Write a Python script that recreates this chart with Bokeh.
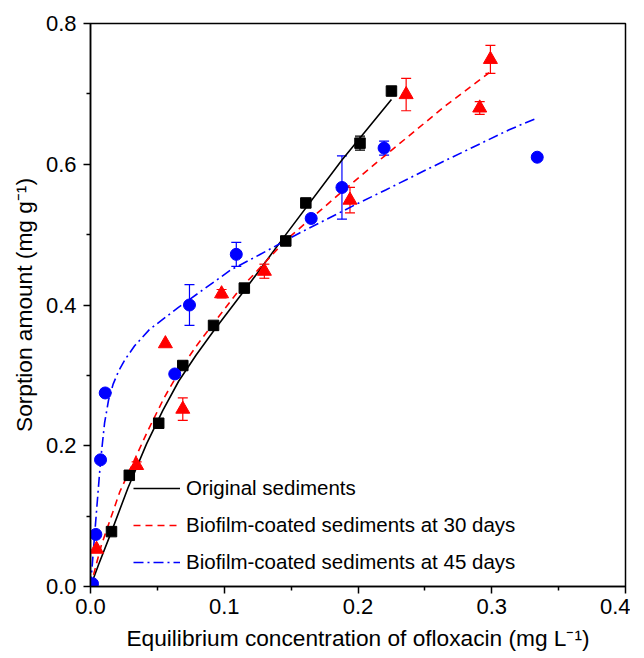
from bokeh.plotting import figure
from bokeh.models import (Range1d, FixedTicker, Whisker, TeeHead, ColumnDataSource,
                          Legend, LegendItem)
from bokeh.embed import file_html
from bokeh.resources import INLINE

# ---------------- data ----------------
# Original sediments (squares)
orig_x = [0.0157, 0.029, 0.051, 0.069, 0.092, 0.115, 0.146, 0.161, 0.2015, 0.225]
orig_y = [0.078, 0.158, 0.232, 0.314, 0.371, 0.424, 0.491, 0.545, 0.630, 0.704]
orig_err = [0.0, 0.0, 0.0, 0.0, 0.0, 0.0, 0.004, 0.0, 0.010, 0.0]

# Biofilm-coated sediments at 30 days (triangles)
d30_x = [0.0045, 0.0345, 0.056, 0.069, 0.098, 0.130, 0.194, 0.236, 0.291, 0.299]
d30_y = [0.053, 0.172, 0.345, 0.252, 0.416, 0.448, 0.549, 0.699, 0.680, 0.749]
d30_err = [0.0, 0.005, 0.0, 0.016, 0.006, 0.010, 0.018, 0.023, 0.009, 0.020]

# Biofilm-coated sediments at 45 days (circles)
d45_x = [0.0015, 0.004, 0.0075, 0.011, 0.063, 0.074, 0.109, 0.165, 0.188, 0.2195, 0.334]
d45_y = [0.004, 0.074, 0.180, 0.275, 0.302, 0.400, 0.472, 0.523, 0.567, 0.623, 0.610]
d45_err = [0.0, 0.0, 0.0, 0.005, 0.0, 0.029, 0.017, 0.0, 0.045, 0.010, 0.0]

# Fitted curves
fit_orig_x = [0.0, 0.006, 0.0157, 0.028, 0.042, 0.054, 0.066, 0.079, 0.092, 0.116,
              0.146, 0.188, 0.225]
fit_orig_y = [0.0, 0.031, 0.078, 0.140, 0.203, 0.250, 0.292, 0.329, 0.363, 0.423,
              0.500, 0.606, 0.692]

fit_d30_x = [0.0, 0.008, 0.022, 0.043, 0.055, 0.068, 0.080, 0.092, 0.111, 0.146,
             0.185, 0.220, 0.266, 0.298]
fit_d30_y = [0.0, 0.058, 0.135, 0.222, 0.268, 0.311, 0.344, 0.374, 0.421, 0.492,
             0.556, 0.612, 0.684, 0.730]

fit_d45_x = [0.0, 0.002, 0.0037, 0.0075, 0.0105, 0.0135, 0.017, 0.021, 0.026, 0.033,
             0.044, 0.066, 0.105, 0.126, 0.156, 0.1985, 0.2207, 0.253, 0.313, 0.333]
fit_d45_y = [0.0, 0.047, 0.088, 0.178, 0.232, 0.265, 0.288, 0.306, 0.323, 0.342,
             0.365, 0.397, 0.450, 0.471, 0.502, 0.543, 0.5635, 0.594, 0.649, 0.665]

legend_labels = ["Original sediments",
                 "Biofilm-coated sediments at 30 days",
                 "Biofilm-coated sediments at 45 days"]

x_ticks = [0.0, 0.1, 0.2, 0.3, 0.4]
x_tick_labels = ["0.0", "0.1", "0.2", "0.3", "0.4"]
x_minor = [0.05, 0.15, 0.25, 0.35]
y_ticks = [0.0, 0.2, 0.4, 0.6, 0.8]
y_tick_labels = ["0.0", "0.2", "0.4", "0.6", "0.8"]
y_minor = [0.1, 0.3, 0.5, 0.7]

x_label = "Equilibrium concentration of ofloxacin (mg L\u207b\u00b9)"
y_label = "Sorption amount (mg g\u207b\u00b9)"

FONT = "Liberation Sans"

# ---------------- figure ----------------
p = figure(width=630, height=656, output_backend="svg", toolbar_location=None,
           x_range=Range1d(0, 0.4), y_range=Range1d(0, 0.8),
           min_border_left=90, min_border_right=5, min_border_top=23,
           min_border_bottom=70)
p.grid.visible = False
p.outline_line_color = "black"
p.outline_line_width = 1.5
p.background_fill_color = "white"
p.border_fill_color = "white"

p.xaxis.ticker = FixedTicker(ticks=x_ticks, minor_ticks=x_minor)
p.yaxis.ticker = FixedTicker(ticks=y_ticks, minor_ticks=y_minor)
p.xaxis.major_label_overrides = dict(zip(x_ticks, x_tick_labels))
p.yaxis.major_label_overrides = dict(zip(y_ticks, y_tick_labels))

for ax in (p.xaxis[0], p.yaxis[0]):
    ax.axis_line_width = 1.5
    ax.axis_line_color = "black"
    ax.major_tick_line_width = 1.5
    ax.minor_tick_line_width = 1.5
    ax.major_tick_in = 0
    ax.major_tick_out = 7
    ax.minor_tick_in = 0
    ax.minor_tick_out = 4
    ax.major_label_text_font = FONT
    ax.major_label_text_font_size = "22px"
    ax.major_label_text_color = "black"
    ax.axis_label_text_font = FONT
    ax.axis_label_text_font_size = "22.7px"
    ax.axis_label_text_font_style = "normal"
    ax.axis_label_text_color = "black"

p.xaxis.axis_label = x_label
p.yaxis.axis_label = y_label
p.xaxis.major_label_standoff = 5
p.yaxis.major_label_standoff = 7
p.xaxis.axis_label_standoff = 8
p.yaxis.axis_label_standoff = 6

# fitted curves
r_orig = p.line(fit_orig_x, fit_orig_y, line_color="black", line_width=1.6)
r_d30 = p.line(fit_d30_x, fit_d30_y, line_color="#ff0000", line_width=1.6,
               line_dash="7 5")
r_d45 = p.line(fit_d45_x, fit_d45_y, line_color="#0000ff", line_width=1.6,
               line_dash="10 4 2 4")

# error bars
def add_err(xs, ys, es, color):
    keep = [i for i, e in enumerate(es) if e > 0]
    src = ColumnDataSource(dict(
        x=[xs[i] for i in keep],
        lo=[ys[i] - es[i] for i in keep],
        hi=[ys[i] + es[i] for i in keep]))
    w = Whisker(source=src, base="x", lower="lo", upper="hi",
                line_color=color, line_width=1.2,
                upper_head=TeeHead(size=10, line_color=color, line_width=1.2),
                lower_head=TeeHead(size=10, line_color=color, line_width=1.2))
    p.add_layout(w)

add_err(orig_x, orig_y, orig_err, "black")
add_err(d30_x, d30_y, d30_err, "#ff0000")
add_err(d45_x, d45_y, d45_err, "#0000ff")

# markers
p.scatter(orig_x, orig_y, marker="square", size=10.5, color="black")
p.scatter(d30_x, d30_y, marker="triangle", size=14, color="#ff0000")
p.scatter(d45_x, d45_y, marker="circle", size=12, color="#0000ff")

legend = Legend(items=[LegendItem(label=legend_labels[0], renderers=[r_orig]),
                       LegendItem(label=legend_labels[1], renderers=[r_d30]),
                       LegendItem(label=legend_labels[2], renderers=[r_d45])],
                location=(43, 12), padding=0, margin=0, spacing=13,
                glyph_width=47, glyph_height=20, label_height=20,
                label_standoff=6, border_line_color=None,
                background_fill_alpha=0, label_text_font=FONT,
                label_text_font_size="20.5px", label_text_color="black")
p.add_layout(legend)

open("out.html", "w").write(file_html(p, INLINE))
